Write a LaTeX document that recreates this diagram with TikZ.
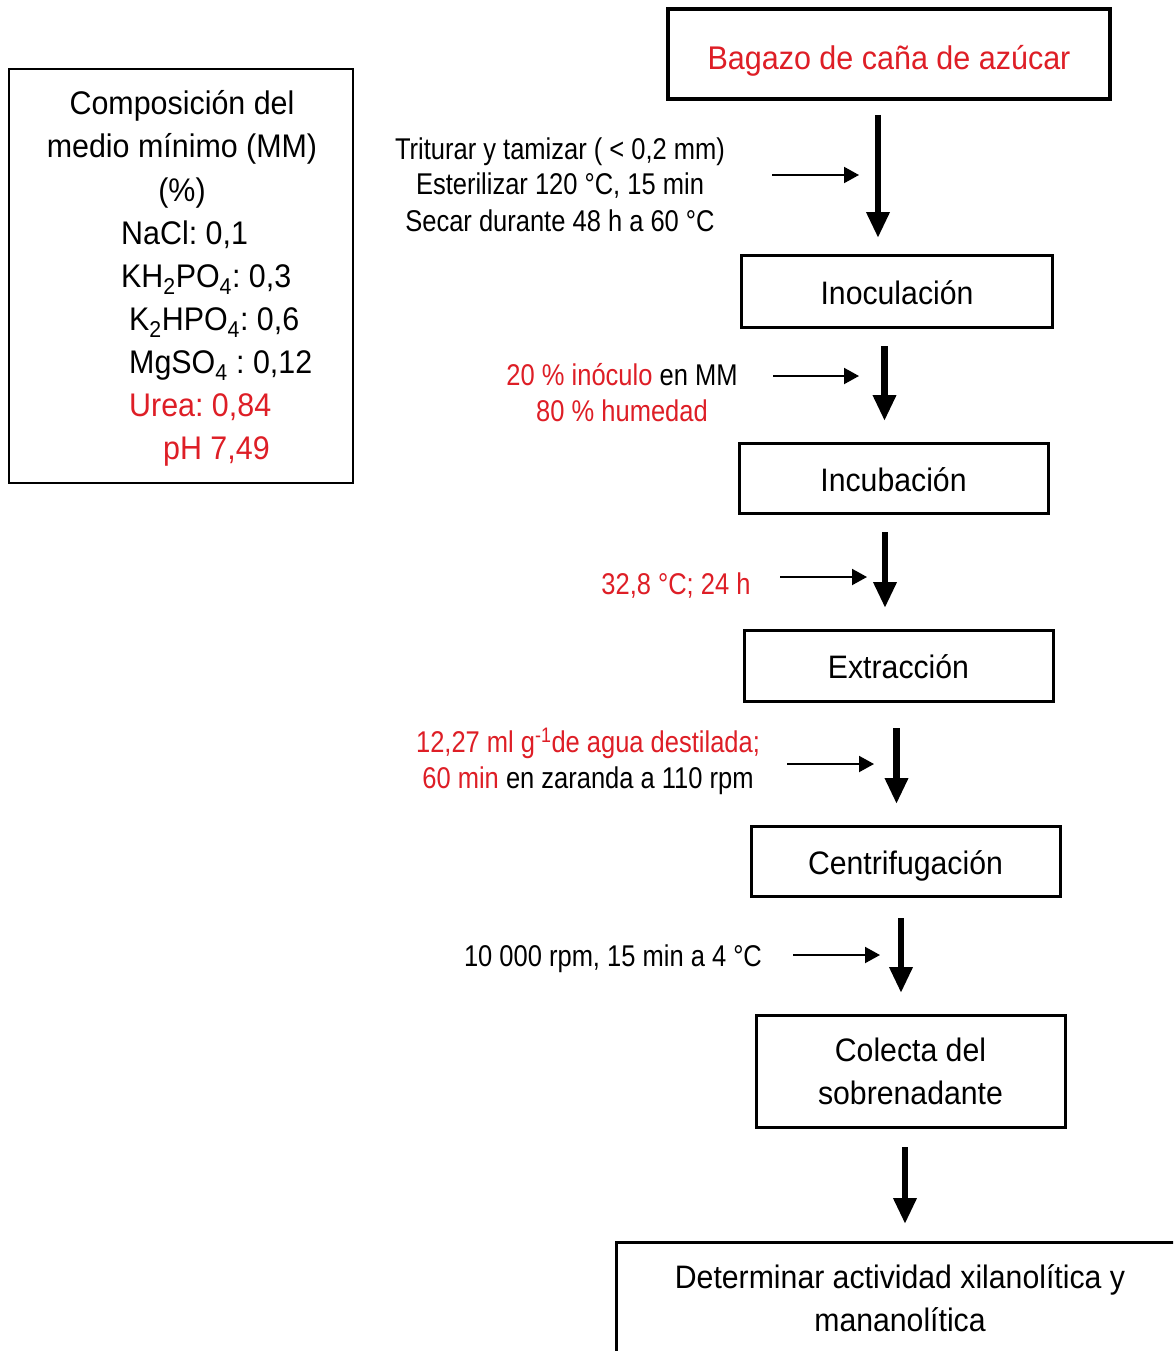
\documentclass[tikz,border=0pt]{standalone}
\usepackage{fontspec}
\setmainfont{Liberation Sans}
\newfontfamily\boxfont[FakeStretch=0.93]{Liberation Sans}
\newfontfamily\annfont[FakeStretch=0.85]{Liberation Sans}
\usetikzlibrary{arrows.meta}
\definecolor{myred}{RGB}{222,30,38}
\begin{document}
\frenchspacing
\begin{tikzpicture}[x=1pt,y=-1pt,
  box/.style={draw, line width=3pt, inner sep=0pt, align=center,
    font=\boxfont\frenchspacing\fontsize{32.5}{43}\selectfont},
  onel/.style={text height=26pt, text depth=0pt},
  mmc/.style={anchor=base, inner sep=0pt, font=\boxfont\frenchspacing\fontsize{32.7}{43}\selectfont},
  mml/.style={anchor=base west, inner sep=0pt, font=\boxfont\frenchspacing\fontsize{32.7}{43}\selectfont},
  ann/.style={anchor=base, inner sep=0pt, font=\annfont\frenchspacing\fontsize{30}{36}\selectfont},
  bigarrow/.style={-{Triangle[width=22pt,length=26pt]}, line width=6.5pt},
  smallarrow/.style={-{Triangle[width=16pt,length=15pt]}, line width=2pt}]
\useasboundingbox (0,0) rectangle (1173,1351);
\clip (0,0) rectangle (1173,1351);
\fill[white] (0,0) rectangle (1173,1351);

% left composition box
\node[draw, line width=2pt, minimum width=344pt, minimum height=414pt] (mmbox) at (181,276) {};
\node[mmc] (l1) at (182,115) {Composición del};
\node[mmc] (l2) at (182,158) {medio mínimo (MM)};
\node[mmc] (l3) at (182,201) {(\%)};
\node[mml] (l4) at (121,244) {NaCl: 0,1};
\node[mml] (l5) at (121,287) {KH\textsubscript{2}PO\textsubscript{4}: 0,3};
\node[mml] (l6) at (129,330) {K\textsubscript{2}HPO\textsubscript{4}: 0,6};
\node[mml] (l7) at (129,373) {MgSO\textsubscript{4} : 0,12};
\node[mml, text=myred] (l8) at (129,416) {Urea: 0,84};
\node[mml, text=myred] (l9) at (163,459) {pH 7,49};

% process boxes
\node[box, line width=4pt, text=myred, text height=32pt, text depth=0pt,
  font=\boxfont\frenchspacing\fontsize{32.8}{43}\selectfont,
  minimum width=442pt, minimum height=90pt] (bag) at (889,54) {Bagazo de caña de azúcar};
\node[box, onel, minimum width=311pt, minimum height=72pt] (inoc) at (897,291) {Inoculación};
\node[box, onel, minimum width=309pt, minimum height=70pt] (incu) at (893.5,478) {Incubación};
\node[box, onel, minimum width=309pt, minimum height=71pt] (extr) at (898.5,665.5) {Extracción};
\node[box, onel, minimum width=309pt, minimum height=70pt] (cent) at (905.5,861) {Centrifugación};
\node[box, minimum width=309pt, minimum height=112pt] (cole) at (910.5,1071) {Colecta del\\sobrenadante};
\node[box, minimum width=568pt, minimum height=112pt] (det) at (900,1298) {Determinar actividad xilanolítica y\\mananolítica};

% annotations
\node[ann] (t1a) at (560,160) {Triturar y tamizar ( < 0,2 mm)};
\node[ann] (t1b) at (560,195) {Esterilizar 120 °C, 15 min};
\node[ann] (t1c) at (560,231) {Secar durante 48 h a 60 °C};
\node[ann] (t2a) at (622,385) {{\color{myred}20 \% inóculo} en MM};
\node[ann, text=myred] (t2b) at (622,421) {80 \% humedad};
\node[ann, text=myred] (t3) at (676,594) {32,8 °C; 24 h};
\node[ann, text=myred] (t4a) at (588,752) {12,27 ml g\textsuperscript{-1}de agua destilada;};
\node[ann] (t4b) at (588,788) {{\color{myred}60 min} en zaranda a 110 rpm};
\node[ann] (t5) at (613,966) {10 000 rpm, 15 min a 4 °C};

% arrow coordinates
\coordinate (a1s) at (878,115);   \coordinate (a1e) at (878,238);
\coordinate (a2s) at (884.5,346); \coordinate (a2e) at (884.5,421);
\coordinate (a3s) at (885,532);   \coordinate (a3e) at (885,608);
\coordinate (a4s) at (896.5,728); \coordinate (a4e) at (896.5,804);
\coordinate (a5s) at (901,918);   \coordinate (a5e) at (901,993);
\coordinate (a6s) at (905,1147);  \coordinate (a6e) at (905,1224);
\coordinate (s1s) at (772,175);   \coordinate (s1e) at (859,175);
\coordinate (s2s) at (773,376);   \coordinate (s2e) at (859,376);
\coordinate (s3s) at (780,577);   \coordinate (s3e) at (867,577);
\coordinate (s4s) at (787,764);   \coordinate (s4e) at (874,764);
\coordinate (s5s) at (793,955);   \coordinate (s5e) at (880,955);

\draw[bigarrow] (a1s) -- (a1e);
\draw[bigarrow] (a2s) -- (a2e);
\draw[bigarrow] (a3s) -- (a3e);
\draw[bigarrow] (a4s) -- (a4e);
\draw[bigarrow] (a5s) -- (a5e);
\draw[bigarrow] (a6s) -- (a6e);
\draw[smallarrow] (s1s) -- (s1e);
\draw[smallarrow] (s2s) -- (s2e);
\draw[smallarrow] (s3s) -- (s3e);
\draw[smallarrow] (s4s) -- (s4e);
\draw[smallarrow] (s5s) -- (s5e);
\end{tikzpicture}
\end{document}
